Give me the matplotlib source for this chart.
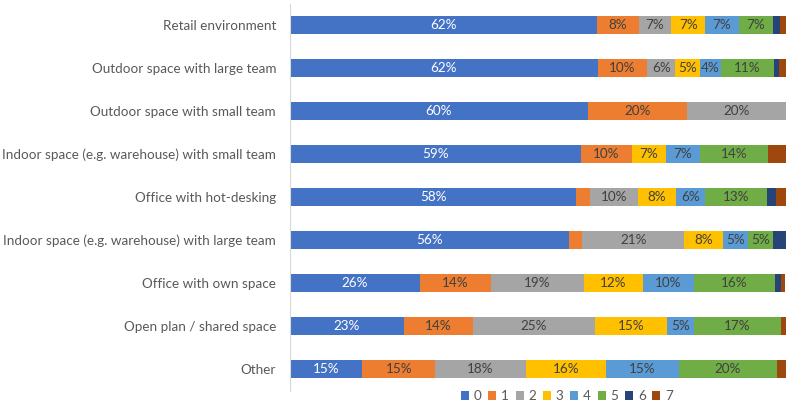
import matplotlib
matplotlib.use("Agg")
import matplotlib.pyplot as plt
import numpy as np

plt.rcParams['font.family'] = ['Lato', 'DejaVu Sans']

categories = [
    "Retail environment",
    "Outdoor space with large team",
    "Outdoor space with small team",
    "Indoor space (e.g. warehouse) with small team",
    "Office with hot-desking",
    "Indoor space (e.g. warehouse) with large team",
    "Office with own space",
    "Open plan / shared space",
    "Other",
]
series_names = ["0", "1", "2", "3", "4", "5", "6", "7"]
s0 = [61.9, 62.0, 60.0, 58.6, 57.7, 56.3, 26.2, 23.0, 14.6]
s1 = [8.4, 10.0, 20.0, 10.4, 2.8, 2.6, 14.4, 13.9, 14.7]
s2 = [6.6, 5.7, 20.0, 0.0, 9.6, 20.6, 18.6, 24.6, 18.2]
s3 = [6.8, 4.9, 0.0, 6.8, 7.7, 7.8, 11.9, 14.6, 16.3]
s4 = [6.8, 4.2, 0.0, 6.8, 5.8, 5.1, 10.4, 5.4, 14.6]
s5 = [6.9, 10.8, 0.0, 13.8, 12.6, 5.0, 16.3, 17.4, 19.8]
s6 = [1.4, 0.9, 0.0, 0.0, 1.7, 2.7, 1.1, 0.0, 0.0]
s7 = [1.2, 1.5, 0.0, 3.6, 2.0, 0.0, 0.9, 1.1, 2.0]
series = [s0, s1, s2, s3, s4, s5, s6, s7]
colors = ["#4472C4", "#ED7D31", "#A5A5A5", "#FFC000", "#5B9BD5", "#70AD47", "#264478", "#9E480E"]

fig = plt.figure(figsize=(7.89, 4.04), dpi=100)
ax = fig.add_axes([290/789, 1-390.5/404, 496/789, 387/404])

y = np.arange(len(categories))
left = np.zeros(len(categories))
handles = []
for name, vals, c in zip(series_names, series, colors):
    vals = np.array(vals)
    h = ax.barh(y, vals, left=left, height=0.4, color=c, label=name)
    handles.append(h)
    for yi, (l, v) in enumerate(zip(left, vals)):
        if v >= 4:
            ax.text(l + v/2, yi, f"{int(round(v))}%", ha="center", va="center",
                    fontsize=9.7, color="white" if name == "0" else "#404040")
    left += vals

ax.set_ylim(len(categories)-0.5, -0.5)
ax.set_xlim(0, 100)
ax.set_yticks(y)
ax.set_yticklabels(categories, fontsize=9.7, color="#595959")
ax.tick_params(axis="y", length=0, pad=10)
ax.set_xticks([])
for s in ["top", "right", "bottom"]:
    ax.spines[s].set_visible(False)
ax.spines["left"].set_color("#D9D9D9")

fig.legend(handles=handles, labels=series_names, loc="center", bbox_to_anchor=(567/789, 1-396/404),
           ncol=8, frameon=False, fontsize=9.7, handlelength=0.6, handleheight=0.6,
           handletextpad=0.35, columnspacing=0.5, labelcolor="#595959")

fig.savefig("out.png", dpi=100)
